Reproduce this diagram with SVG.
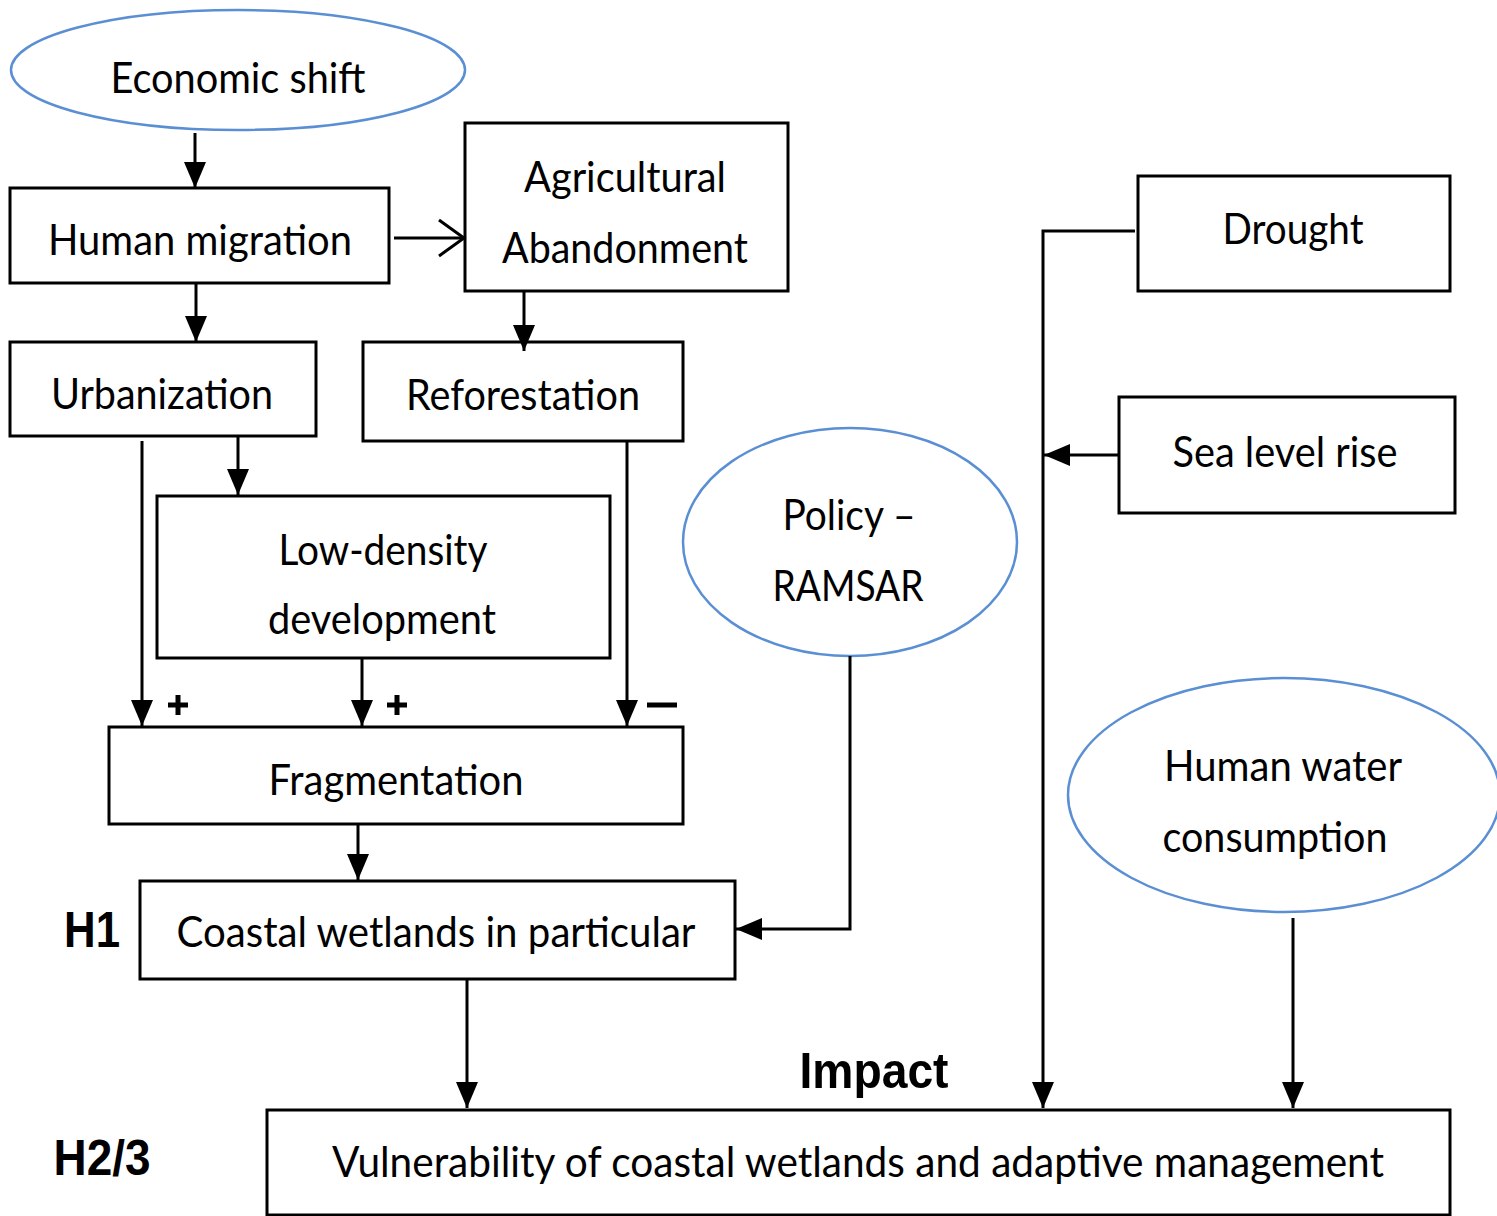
<svg xmlns="http://www.w3.org/2000/svg" width="1497" height="1216" viewBox="0 0 1497 1216">
<defs>
<style>
.box{fill:#fff;stroke:#000;stroke-width:3}
.ell{fill:#fff;stroke:#5b8fd4;stroke-width:2.5}
.t{font-family:Lato,"Open Sans","Liberation Sans",sans-serif;font-size:42px;fill:#000;text-anchor:middle}
.b{font-family:"Liberation Sans",Arial,sans-serif;font-weight:bold;font-size:50px;fill:#000;text-anchor:middle}
.c{fill:none;stroke:#000;stroke-width:3}
.sign{stroke:#000;stroke-width:5;fill:none}
</style>
<marker id="ah" markerUnits="userSpaceOnUse" markerWidth="26" markerHeight="22" refX="26" refY="11" orient="auto">
<path d="M0,0 L26,11 L0,22 z" fill="#000"/>
</marker>
<marker id="oa" markerUnits="userSpaceOnUse" markerWidth="30" markerHeight="40" refX="27" refY="20" orient="auto">
<path d="M2,2 L27,20 L2,38" fill="none" stroke="#000" stroke-width="3"/>
</marker>
</defs>
<rect width="1497" height="1216" fill="#fff"/>

<g id="economic-shift">
<ellipse class="ell" cx="238" cy="70" rx="227" ry="60"/>
<text class="t" x="238" y="93" textLength="255" lengthAdjust="spacingAndGlyphs">Economic shift</text>
</g>
<g id="human-migration">
<rect class="box" x="10" y="188" width="379" height="95"/>
<text class="t" x="200" y="255" textLength="304" lengthAdjust="spacingAndGlyphs">Human migration</text>
</g>
<g id="agricultural-abandonment">
<rect class="box" x="465" y="123" width="323" height="168"/>
<text class="t" x="625" y="192" textLength="202" lengthAdjust="spacingAndGlyphs">Agricultural</text>
<text class="t" x="625" y="263" textLength="246" lengthAdjust="spacingAndGlyphs">Abandonment</text>
</g>
<g id="urbanization">
<rect class="box" x="10" y="342" width="306" height="94"/>
<text class="t" x="162" y="409" textLength="222" lengthAdjust="spacingAndGlyphs">Urbanization</text>
</g>
<g id="reforestation">
<rect class="box" x="363" y="342" width="320" height="99"/>
<text class="t" x="523" y="410" textLength="234" lengthAdjust="spacingAndGlyphs">Reforestation</text>
</g>
<g id="low-density-development">
<rect class="box" x="157" y="496" width="453" height="162"/>
<text class="t" x="383" y="565" textLength="209" lengthAdjust="spacingAndGlyphs">Low-density</text>
<text class="t" x="382" y="634" textLength="228" lengthAdjust="spacingAndGlyphs">development</text>
</g>
<g id="fragmentation">
<rect class="box" x="109" y="727" width="574" height="97"/>
<text class="t" x="396" y="795" textLength="255" lengthAdjust="spacingAndGlyphs">Fragmentation</text>
</g>
<g id="coastal-wetlands">
<rect class="box" x="140" y="881" width="595" height="98"/>
<text class="t" x="436" y="947" textLength="519" lengthAdjust="spacingAndGlyphs">Coastal wetlands in particular</text>
</g>
<g id="vulnerability">
<rect class="box" x="267" y="1110" width="1183" height="105"/>
<text class="t" x="858" y="1177" textLength="1052" lengthAdjust="spacingAndGlyphs">Vulnerability of coastal wetlands and adaptive management</text>
</g>
<g id="drought">
<rect class="box" x="1138" y="176" width="312" height="115"/>
<text class="t" x="1293" y="244" textLength="141" lengthAdjust="spacingAndGlyphs">Drought</text>
</g>
<g id="sea-level-rise">
<rect class="box" x="1119" y="397" width="336" height="116"/>
<text class="t" x="1285" y="467" textLength="225" lengthAdjust="spacingAndGlyphs">Sea level rise</text>
</g>
<g id="policy-ramsar">
<ellipse class="ell" cx="850" cy="542" rx="167" ry="114"/>
<text class="t" x="849" y="530" textLength="133" lengthAdjust="spacingAndGlyphs">Policy –</text>
<text class="t" x="848" y="601" textLength="151" lengthAdjust="spacingAndGlyphs">RAMSAR</text>
</g>
<g id="human-water-consumption">
<ellipse class="ell" cx="1284" cy="795" rx="216" ry="117"/>
<text class="t" x="1283" y="781" textLength="238" lengthAdjust="spacingAndGlyphs">Human water</text>
<text class="t" x="1275" y="852" textLength="225" lengthAdjust="spacingAndGlyphs">consumption</text>
</g>
<g id="labels">
<text class="b" x="92" y="947" textLength="56" lengthAdjust="spacingAndGlyphs">H1</text>
<text class="b" x="102" y="1175" textLength="97" lengthAdjust="spacingAndGlyphs">H2/3</text>
<text class="b" x="874" y="1088" textLength="149" lengthAdjust="spacingAndGlyphs">Impact</text>
</g>

<g id="connectors">
<path class="c" d="M195,133 V188" marker-end="url(#ah)"/>
<path class="c" d="M196,284 V342" marker-end="url(#ah)"/>
<path class="c" d="M394,238 H464" marker-end="url(#oa)"/>
<path class="c" d="M524,291 V351" marker-end="url(#ah)"/>
<path class="c" d="M238,436 V495" marker-end="url(#ah)"/>
<path class="c" d="M142,441 V726" marker-end="url(#ah)"/>
<path class="c" d="M362,658 V726" marker-end="url(#ah)"/>
<path class="c" d="M627,441 V726" marker-end="url(#ah)"/>
<path class="c" d="M358,824 V880" marker-end="url(#ah)"/>
<path class="c" d="M850,656 V929 H736" marker-end="url(#ah)"/>
<path class="c" d="M1135,231 H1043 V1108" marker-end="url(#ah)"/>
<path class="c" d="M1119,455 H1044" marker-end="url(#ah)"/>
<path class="c" d="M467,979 V1108" marker-end="url(#ah)"/>
<path class="c" d="M1293,918 V1108" marker-end="url(#ah)"/>
</g>

<g id="signs">
<path class="sign" d="M168,705 H188 M178,695 V715"/>
<path class="sign" d="M387,705 H407 M397,695 V715"/>
<path class="sign" d="M647,705 H677"/>
</g>
</svg>
